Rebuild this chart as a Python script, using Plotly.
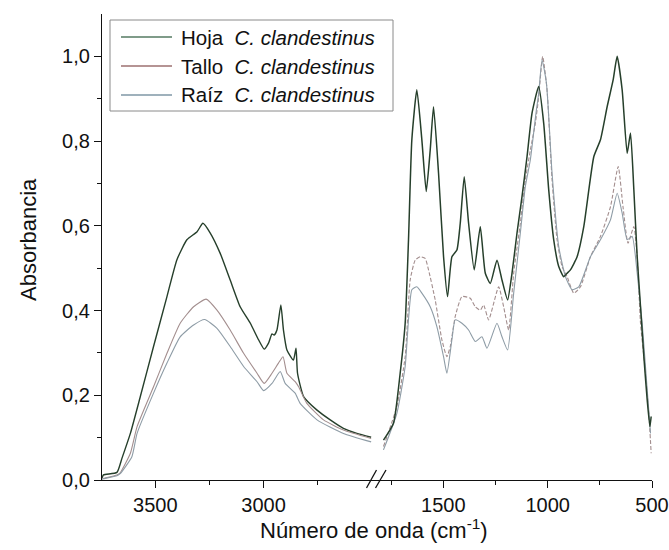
import plotly.graph_objects as go

# ---------------- data ----------------
# Left segment (high wavenumbers)
hoja_wn_L = [3746, 3739, 3677, 3654, 3615, 3569, 3508, 3446, 3400, 3354, 3307, 3280, 3246, 3200,
             3154, 3108, 3061, 3023, 2997, 2977, 2961, 2951, 2938, 2920, 2908, 2892, 2862, 2850,
             2843, 2815, 2753, 2692, 2631, 2569, 2503]
hoja_ab_L = [0.005, 0.012, 0.018, 0.051, 0.11, 0.197, 0.315, 0.433, 0.520, 0.567, 0.586, 0.606, 0.583, 0.535,
             0.472, 0.409, 0.370, 0.331, 0.309, 0.323, 0.345, 0.342, 0.354, 0.413, 0.354, 0.307, 0.283, 0.311,
             0.252, 0.197, 0.165, 0.142, 0.122, 0.110, 0.101]

tallo_wn_L = [3746, 3739, 3677, 3662, 3615, 3584, 3508, 3446, 3385, 3323, 3265, 3215, 3154, 3092,
              3030, 2997, 2961, 2931, 2910, 2892, 2854, 2838, 2800, 2723, 2631, 2503]
tallo_ab_L = [0.003, 0.004, 0.012, 0.017, 0.063, 0.126, 0.220, 0.299, 0.370, 0.409, 0.427, 0.401, 0.354, 0.299,
              0.252, 0.228, 0.252, 0.276, 0.291, 0.252, 0.232, 0.220, 0.181, 0.142, 0.118, 0.098]

raiz_wn_L = [3746, 3739, 3677, 3662, 3608, 3584, 3508, 3446, 3385, 3323, 3272, 3215, 3154, 3092,
             3030, 3000, 2961, 2923, 2900, 2854, 2831, 2753, 2631, 2503]
raiz_ab_L = [0.002, 0.003, 0.010, 0.015, 0.055, 0.110, 0.205, 0.276, 0.338, 0.366, 0.379, 0.358, 0.315, 0.268,
             0.232, 0.211, 0.228, 0.256, 0.228, 0.205, 0.181, 0.142, 0.110, 0.090]

# Right segment (fingerprint region)
hoja_wn_R = [1787, 1739, 1707, 1683, 1667, 1651, 1627, 1603, 1582, 1563, 1547, 1523, 1499, 1480,
             1459, 1435, 1419, 1400, 1379, 1352, 1323, 1299, 1275, 1243, 1219, 1192, 1171, 1147,
             1123, 1099, 1075, 1043, 1019, 995, 971, 947, 923, 907, 891, 859, 827, 779, 747, 715,
             686, 667, 643, 619, 603, 587, 571, 555, 539, 523, 510, 504]
hoja_ab_R = [0.094, 0.134, 0.252, 0.370, 0.567, 0.803, 0.921, 0.803, 0.681, 0.779, 0.881, 0.724, 0.527, 0.433,
             0.527, 0.543, 0.606, 0.716, 0.606, 0.496, 0.598, 0.488, 0.464, 0.519, 0.472, 0.425, 0.488, 0.583,
             0.669, 0.763, 0.866, 0.929, 0.842, 0.685, 0.567, 0.504, 0.480, 0.488, 0.496, 0.527, 0.598, 0.763,
             0.803, 0.881, 0.945, 1.000, 0.921, 0.771, 0.819, 0.685, 0.527, 0.409, 0.291, 0.189, 0.126, 0.150]

tallo_wn_R = [1787, 1723, 1683, 1659, 1635, 1611, 1587, 1571, 1539, 1507, 1483, 1467, 1443, 1411,
              1371, 1347, 1323, 1307, 1283, 1235, 1211, 1187, 1163, 1131, 1107, 1083, 1059, 1043,
              1024, 1003, 979, 955, 931, 907, 875, 843, 795, 747, 699, 662, 639, 615, 587, 571,
              555, 531, 515, 504]
tallo_ab_R = [0.079, 0.173, 0.291, 0.472, 0.519, 0.527, 0.523, 0.496, 0.425, 0.331, 0.291, 0.315, 0.386, 0.433,
              0.429, 0.409, 0.401, 0.413, 0.378, 0.456, 0.409, 0.354, 0.488, 0.606, 0.708, 0.779, 0.842, 0.905,
              1.000, 0.921, 0.708, 0.567, 0.504, 0.480, 0.441, 0.456, 0.527, 0.575, 0.645, 0.740, 0.645, 0.559,
              0.598, 0.527, 0.370, 0.252, 0.157, 0.063]

raiz_wn_R = [1787, 1723, 1683, 1651, 1627, 1603, 1563, 1531, 1499, 1483, 1459, 1443, 1411, 1379,
             1347, 1315, 1291, 1243, 1219, 1192, 1163, 1131, 1107, 1083, 1056, 1043, 1027, 1006,
             979, 947, 915, 883, 851, 795, 747, 699, 667, 643, 619, 595, 571, 547, 523, 507]
raiz_ab_R = [0.071, 0.157, 0.268, 0.449, 0.456, 0.441, 0.409, 0.362, 0.291, 0.252, 0.331, 0.378, 0.370, 0.354,
             0.327, 0.338, 0.311, 0.370, 0.338, 0.307, 0.441, 0.583, 0.693, 0.756, 0.866, 0.913, 0.992, 0.937,
             0.724, 0.551, 0.480, 0.449, 0.456, 0.527, 0.567, 0.614, 0.677, 0.630, 0.567, 0.575, 0.488, 0.370,
             0.213, 0.110]

series_names = ["Hoja", "Tallo", "Raíz"]
species = "C. clandestinus"
x_ticks_left = [3500, 3000]
x_ticks_right = [1500, 1000, 500]
y_ticks = [0.0, 0.2, 0.4, 0.6, 0.8, 1.0]

# ---------------- styling ----------------
FONT = "Liberation Sans, Arial, sans-serif"
c_hoja, c_tallo, c_raiz = "#263f2b", "#a38e8e", "#8e9ca6"
leg_cols = ["#557a62", "#9c7070", "#7f97a6"]

W, H = 669, 550
ML, MR, MT, MB = 102, 17, 14, 70
PW, PH = W - ML - MR, H - MT - MB


def px(x):
    return (x - ML) / PW


def py(y):
    return (H - MB - y) / PH


def line(color, width, dash="solid"):
    return dict(color=color, width=width, dash=dash, shape="spline", smoothing=0.5)


fig = go.Figure()
fig.add_trace(go.Scatter(x=hoja_wn_L, y=hoja_ab_L, mode="lines", xaxis="x", yaxis="y",
                         line=line(c_hoja, 1.4), showlegend=False))
fig.add_trace(go.Scatter(x=tallo_wn_L, y=tallo_ab_L, mode="lines", xaxis="x", yaxis="y",
                         line=line(c_tallo, 1.1), showlegend=False))
fig.add_trace(go.Scatter(x=raiz_wn_L, y=raiz_ab_L, mode="lines", xaxis="x", yaxis="y",
                         line=line(c_raiz, 1.1), showlegend=False))
fig.add_trace(go.Scatter(x=tallo_wn_R, y=tallo_ab_R, mode="lines", xaxis="x2", yaxis="y",
                         line=line(c_tallo, 1.1, "4px,2px"), showlegend=False))
fig.add_trace(go.Scatter(x=raiz_wn_R, y=raiz_ab_R, mode="lines", xaxis="x2", yaxis="y",
                         line=line(c_raiz, 1.1), showlegend=False))
fig.add_trace(go.Scatter(x=hoja_wn_R, y=hoja_ab_R, mode="lines", xaxis="x2", yaxis="y",
                         line=line(c_hoja, 1.5), showlegend=False))

axis_common = dict(showgrid=False, zeroline=False, showline=True, linecolor="#111", linewidth=1.3,
                   ticks="outside", ticklen=7, tickwidth=1.3, tickcolor="#111",
                   tickfont=dict(family=FONT, size=20, color="#111"), automargin=False)

fig.update_layout(
    width=W, height=H,
    margin=dict(l=ML, r=MR, t=MT, b=MB),
    paper_bgcolor="white", plot_bgcolor="white",
    separators=",.",
    showlegend=False,
    xaxis=dict(domain=[0, 0.5], range=[3746, 2476], anchor="y", tickvals=x_ticks_left,
               minor=dict(tickvals=[3250, 2750], ticklen=4, tickcolor="#111", tickwidth=1.2),
               **axis_common),
    xaxis2=dict(domain=[0.5, 1], range=[1818, 500], anchor="y", tickvals=x_ticks_right,
                minor=dict(tickvals=[1750, 1250, 750], ticklen=4, tickcolor="#111", tickwidth=1.2),
                **axis_common),
    yaxis=dict(range=[0, 1.1], anchor="x", tickvals=y_ticks, tickformat=".1f",
               minor=dict(tickvals=[0.1, 0.3, 0.5, 0.7, 0.9], ticklen=4, tickcolor="#111", tickwidth=1.2),
               **axis_common),
)

shapes = []
annotations = []
# axis break marks
for (xa, xb) in [(366.5, 376.5), (375.5, 386.0)]:
    shapes.append(dict(type="line", xref="paper", yref="paper",
                       x0=px(xa), y0=py(488), x1=px(xb), y1=py(470),
                       line=dict(color="#111", width=1.3)))

# legend box
shapes.append(dict(type="rect", xref="paper", yref="paper",
                   x0=px(110), x1=px(393), y0=py(111), y1=py(20),
                   line=dict(color="#8a8a8a", width=1), fillcolor="white", layer="above"))
leg_y = [37, 66, 95]
for name, col, yy in zip(series_names, leg_cols, leg_y):
    shapes.append(dict(type="line", xref="paper", yref="paper",
                       x0=px(121), x1=px(172), y0=py(yy), y1=py(yy),
                       line=dict(color=col, width=1.3), layer="above"))
    annotations.append(dict(xref="paper", yref="paper", x=px(179), y=py(yy),
                            xanchor="left", yanchor="middle", showarrow=False,
                            text=f"{name}&nbsp; <i>{species}</i>",
                            font=dict(family=FONT, size=20.5, color="#111")))

# axis titles
annotations.append(dict(xref="paper", yref="paper", x=px(374), y=py(529),
                        xanchor="center", yanchor="middle", showarrow=False,
                        text="Número de onda (cm<sup>-1</sup>)",
                        font=dict(family=FONT, size=22, color="#111")))
annotations.append(dict(xref="paper", yref="paper", x=px(28), y=py(240),
                        xanchor="center", yanchor="middle", showarrow=False, textangle=-90,
                        text="Absorbancia",
                        font=dict(family=FONT, size=22, color="#111")))

fig.update_layout(shapes=shapes, annotations=annotations)

fig.write_html("out.html", config={"displayModeBar": False},
               post_script="document.body.style.margin='0';document.body.style.padding='0';")
